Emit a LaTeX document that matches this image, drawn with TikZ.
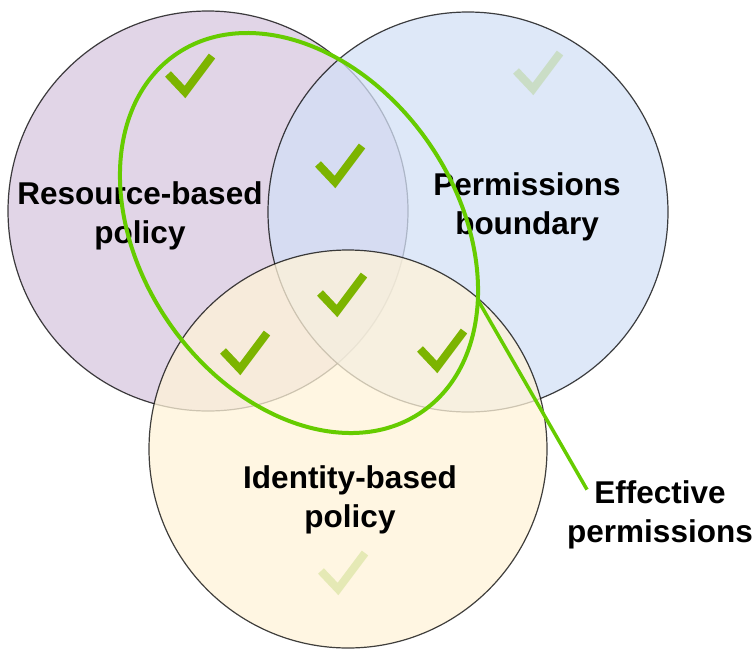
\documentclass[tikz,border=0pt]{standalone}
\usepackage{fontspec}
\setmainfont{Liberation Sans}
\usetikzlibrary{shapes.geometric,positioning}

\definecolor{resfill}{HTML}{D7C7DF}
\definecolor{bndfill}{HTML}{D3E0F6}
\definecolor{idfill}{HTML}{FFF3D8}
\definecolor{effgreen}{HTML}{66CC00}
\definecolor{tickgreen}{HTML}{7CB400}

\begin{document}
\begin{tikzpicture}[
    x=1pt, y=-1pt,
    policy/.style={
        circle,
        draw=black,
        line width=1.2,
        draw opacity=0.75,
        fill opacity=0.75,
        minimum size=400,
        inner sep=0
    },
    venntext/.style={font=\fontsize{31.5}{39}\selectfont\bfseries, align=center, inner sep=0, text=black},
    tickline/.style={line width=8, draw=tickgreen, line cap=butt, line join=miter},
    faint/.style={draw opacity=0.2},
    tickmark/.pic={\draw[tickline] (-17,-18) -- (0,0) -- (27,-36);},
    effline/.style={draw=effgreen, line width=4}
]

\useasboundingbox (0,0) rectangle (754,651);

% Policy circles
\node[policy, fill=resfill] (res) at (208,211) {};
\node[policy, fill=bndfill] (bnd) at (468,212) {};
\node[policy, fill=idfill, minimum size=398] (idp) at (348,449) {};

% Circle texts
\node[venntext] (restext) at (140,216) {Resource-based\\policy};
\node[venntext] (bndtext) at (527,207) {Permissions\\boundary};
\node[venntext] (idtext) at (350,500) {Identity-based\\policy};

% Ticks
\pic at (185,92) {tickmark};
\pic at (335,182) {tickmark};
\pic[faint] at (533,89) {tickmark};
\pic at (337,311) {tickmark};
\pic at (240,369) {tickmark};
\pic at (437,367) {tickmark};
\pic[faint] at (338,589) {tickmark};

% Effective permissions
\node[effline, ellipse, minimum width=434, minimum height=316, inner sep=0, outer sep=0, rotate=-55.5] (eff) at (299,233) {};
\node[venntext] (efftext) at (660,515) {Effective\\permissions};
\draw[effline, line width=3.5] (eff.35) -- ([shift={(20,9)}]efftext.north west);

\end{tikzpicture}
\end{document}
